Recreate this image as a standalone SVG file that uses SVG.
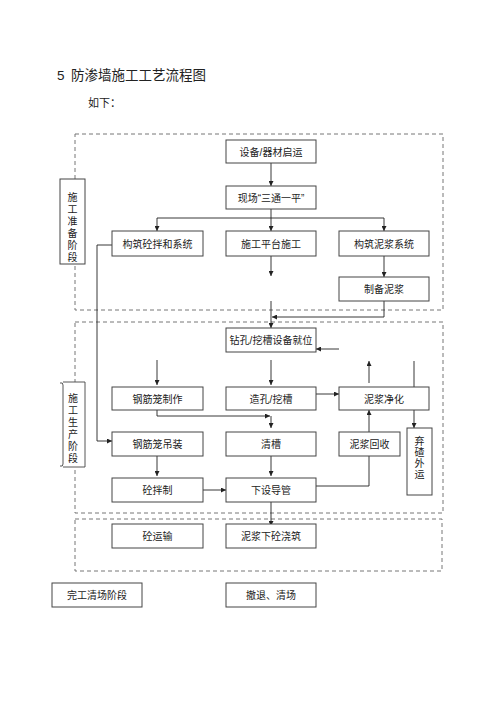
<svg xmlns="http://www.w3.org/2000/svg" width="500" height="706" viewBox="0 0 500 706">
<defs>
<marker id="ah" viewBox="0 0 6 6" refX="6" refY="3" markerWidth="5" markerHeight="5" orient="auto" markerUnits="userSpaceOnUse">
<path d="M0,0 L6,3 L0,6 z" fill="#222"/>
</marker>
<style>
text{font-family:"Liberation Sans","Noto Sans CJK SC",sans-serif;fill:#222;}
.t{font-size:10px;text-anchor:middle;dominant-baseline:central;}
.b{fill:#fff;stroke:#444;stroke-width:1;}
.d{fill:none;stroke:#777;stroke-width:1;stroke-dasharray:4,3;}
.c{fill:none;stroke:#222;stroke-width:0.9;}
.a{marker-end:url(#ah);}
</style>
</defs>
<rect width="500" height="706" fill="#fff"/>
<text x="57" y="80" style="font-size:13.5px">5</text>
<text x="71" y="80" style="font-size:13.5px">防渗墙施工工艺流程图</text>
<text x="88" y="107" style="font-size:11px">如下：</text>

<g id="stages">
<rect class="d" x="75" y="134" width="368" height="176"/>
<rect class="d" x="75" y="322" width="368" height="191"/>
<rect class="d" x="75" y="519" width="367" height="52"/>
</g>

<g id="connectors">
<line class="c a" x1="271" y1="163" x2="271" y2="186"/>
<line class="c" x1="271" y1="209" x2="271" y2="218"/>
<line class="c" x1="157" y1="218" x2="384" y2="218"/>
<line class="c a" x1="157" y1="218" x2="157" y2="231"/>
<line class="c a" x1="271" y1="218" x2="271" y2="231"/>
<line class="c a" x1="384" y1="218" x2="384" y2="231"/>
<line class="c a" x1="384" y1="256" x2="384" y2="277"/>
<line class="c a" x1="271" y1="256" x2="271" y2="276"/>
<line class="c a" x1="271" y1="301" x2="271" y2="328"/>
<polyline class="c a" points="384,301 384,317 272,317"/>
<polyline class="c a" points="112,245 97,245 97,441 112,441"/>
<line class="c a" x1="339" y1="349" x2="316" y2="349"/>
<line class="c a" x1="157" y1="360" x2="157" y2="385"/>
<line class="c a" x1="271" y1="360" x2="271" y2="385"/>
<line class="c a" x1="369" y1="383" x2="369" y2="361"/>
<line class="c a" x1="414" y1="361" x2="414" y2="428"/>
<line class="c a" x1="316" y1="394" x2="339" y2="394"/>
<polyline class="c a" points="157,410 157,416 270,416"/>
<line class="c a" x1="271" y1="416" x2="271" y2="428"/>
<line class="c a" x1="157" y1="456" x2="157" y2="476"/>
<line class="c a" x1="271" y1="456" x2="271" y2="476"/>
<line class="c a" x1="203" y1="490" x2="226" y2="490"/>
<polyline class="c a" points="316,486 369,486 369,410"/>
<line class="c a" x1="271" y1="502" x2="271" y2="526"/>
</g>

<g id="n_label1"><rect class="b" x="60" y="179" width="25" height="85"/>
<text class="t" x="72.5" y="197">施</text><text class="t" x="72.5" y="209">工</text><text class="t" x="72.5" y="221">准</text><text class="t" x="72.5" y="233">备</text><text class="t" x="72.5" y="245">阶</text><text class="t" x="72.5" y="257">段</text></g>
<g id="n_label2"><rect x="63" y="382" width="22" height="85" fill="#fff"/><path class="c" d="M60,383 Q63,382 63,385 V464 Q63,467 60,466 M63,382 H85 V467 H63" style="stroke:#444"/>
<text class="t" x="73" y="398">施</text><text class="t" x="73" y="410">工</text><text class="t" x="73" y="422">生</text><text class="t" x="73" y="434">产</text><text class="t" x="73" y="446">阶</text><text class="t" x="73" y="458">段</text></g>

<g id="n1"><rect class="b" x="226" y="140" width="90" height="23"/><text class="t" x="271" y="152">设备/器材启运</text></g>
<g id="n2"><rect class="b" x="226" y="186" width="90" height="23"/><text class="t" x="271" y="198">现场“三通一平”</text></g>
<g id="n3"><rect class="b" x="112" y="231" width="91" height="25"/><text class="t" x="157.5" y="244">构筑砼拌和系统</text></g>
<g id="n4"><rect class="b" x="226" y="231" width="90" height="25"/><text class="t" x="271" y="244">施工平台施工</text></g>
<g id="n5"><rect class="b" x="339" y="231" width="90" height="25"/><text class="t" x="384" y="244">构筑泥浆系统</text></g>
<g id="n6"><rect class="b" x="339" y="277" width="90" height="24"/><text class="t" x="384" y="289">制备泥浆</text></g>
<g id="n7"><rect class="b" x="226" y="328" width="90" height="24"/><text class="t" x="271" y="340">钻孔/挖槽设备就位</text></g>
<g id="n8"><rect class="b" x="112" y="387" width="91" height="23"/><text class="t" x="157.5" y="399">钢筋笼制作</text></g>
<g id="n9"><rect class="b" x="226" y="387" width="90" height="23"/><text class="t" x="271" y="399">造孔/挖槽</text></g>
<g id="n10"><rect class="b" x="339" y="387" width="90" height="23"/><text class="t" x="384" y="399">泥浆净化</text></g>
<g id="n11"><rect class="b" x="112" y="432" width="91" height="24"/><text class="t" x="157.5" y="444">钢筋笼吊装</text></g>
<g id="n12"><rect class="b" x="226" y="432" width="90" height="24"/><text class="t" x="271" y="444">清槽</text></g>
<g id="n13"><rect class="b" x="339" y="432" width="61" height="24"/><text class="t" x="369.5" y="444">泥浆回收</text></g>
<g id="n14"><rect class="b" x="407" y="428" width="25" height="67"/>
<text class="t" x="419.5" y="441">弃</text><text class="t" x="419.5" y="452">碴</text><text class="t" x="419.5" y="463">外</text><text class="t" x="419.5" y="474">运</text></g>
<g id="n15"><rect class="b" x="112" y="478" width="91" height="24"/><text class="t" x="157.5" y="490">砼拌制</text></g>
<g id="n16"><rect class="b" x="226" y="478" width="90" height="24"/><text class="t" x="271" y="490">下设导管</text></g>
<g id="n17"><rect class="b" x="112" y="524" width="91" height="24"/><text class="t" x="157.5" y="536">砼运输</text></g>
<g id="n18"><rect class="b" x="226" y="524" width="90" height="24"/><text class="t" x="271" y="536">泥浆下砼浇筑</text></g>
<g id="n19"><rect class="b" x="52" y="583" width="90" height="24"/><text class="t" x="97" y="595">完工清场阶段</text></g>
<g id="n20"><rect class="b" x="226" y="583" width="90" height="24"/><text class="t" x="271" y="595">撤退、清场</text></g>
</svg>
